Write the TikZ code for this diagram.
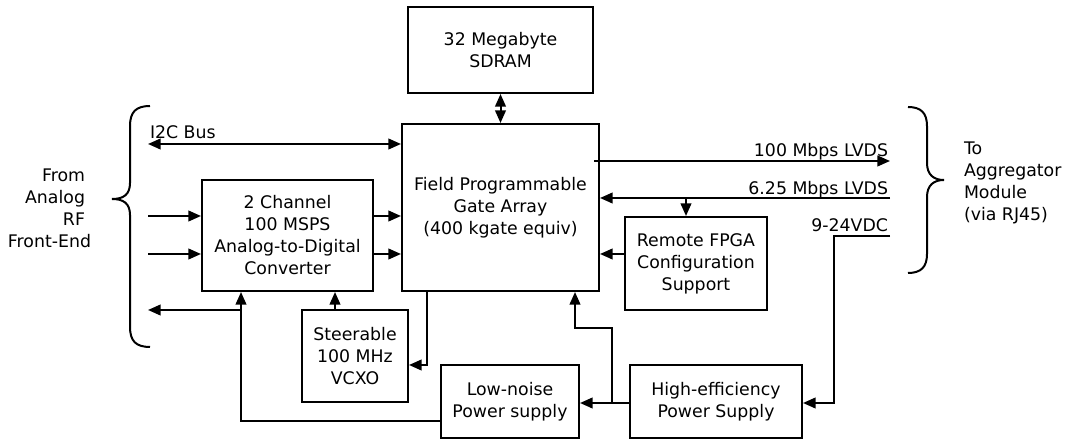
\documentclass[tikz,border=0pt]{standalone}
\usepackage{fontspec}
\setmainfont{DejaVu Sans}
\usetikzlibrary{arrows.meta,calc}
\begin{document}
\begin{tikzpicture}[x=0.75pt,y=-0.75pt,
  line width=1.5pt,
  >={Triangle[length=9.5pt,width=8pt]},
  txt/.style={font=\fontsize{13}{16.5}\selectfont, align=center},
  box/.style={txt, draw, line width=1.5pt, inner sep=2pt},
  lbl/.style={font=\fontsize{13}{16.5}\selectfont, inner sep=0pt},
  wire/.style={line width=1.5pt}
]
\useasboundingbox (0,0) rectangle (1068,441);

% boxes
\node[box, minimum width=138.75pt, minimum height=64.5pt] (sdram) at (500.5,50) {32 Megabyte\\SDRAM};
\node[box, minimum width=147.75pt, minimum height=125.25pt] (fpga) at (500.5,207.5) {Field Programmable\\Gate Array\\(400 kgate equiv)};
\node[box, minimum width=128.25pt, minimum height=83.25pt] (adc) at (287.5,235.5) {2 Channel\\100 MSPS\\Analog-to-Digital\\Converter};
\node[box, minimum width=106.5pt, minimum height=69.75pt] (remote) at (696,263.5) {Remote FPGA\\Configuration\\Support};
\node[box, minimum width=79.5pt, minimum height=69pt] (vcxo) at (355,356) {Steerable\\100 MHz\\VCXO};
\node[box, minimum width=103.5pt, minimum height=54.75pt] (lownoise) at (510,401.5) {Low-noise\\Power supply};
\node[box, minimum width=129pt, minimum height=54.75pt] (higheff) at (716,401.5) {High-efficiency\\Power Supply};

% labels
\node[lbl, anchor=base west] (i2clbl) at (149,139) {I2C Bus};
\node[lbl, anchor=base east] (l100) at (889,157) {100 Mbps LVDS};
\node[lbl, anchor=base east] (l625) at (889,195) {6.25 Mbps LVDS};
\node[lbl, anchor=base east] (lvdc) at (889,232) {9-24VDC};
\node[lbl, align=right, anchor=east] (from) at (86,208) {From\\Analog\\RF\\\makebox[\dimexpr\width-4.5pt\relax][l]{Front-End}};
\node[lbl, align=left, anchor=west] (to) at (963,183) {To\\Aggregator\\Module\\(via RJ45)};

% coordinates
\coordinate (i2cL) at (148,144);
\coordinate (in1) at (148,216);
\coordinate (in2) at (148,254);
\coordinate (outL) at (148,310);
\coordinate (c1) at (241,421);
\coordinate (c2) at (335,0);
\coordinate (c3) at (427,365);
\coordinate (c4) at (612,403);
\coordinate (c5) at (575,328);
\coordinate (c6) at (890,161);
\coordinate (c7) at (890,198);
\coordinate (c8) at (686,198);
\coordinate (c9) at (0,254);
\coordinate (c10) at (890,236);
\coordinate (c11) at (834,236);

% connectors
\draw[wire,<->] (sdram.south) -- (fpga.north);
\draw[wire,<->] (i2cL) -- (i2cL -| fpga.west);
\draw[wire,->] (in1) -- (in1 -| adc.west);
\draw[wire,->] (in2) -- (in2 -| adc.west);
\draw[wire,->] (in1 -| adc.east) -- (in1 -| fpga.west);
\draw[wire,->] (in2 -| adc.east) -- (in2 -| fpga.west);
\draw[wire,->] (lownoise.west |- c1) -- (c1) -- (c1 |- adc.south);
\draw[wire,->] (c1 |- outL) -- (outL);
\draw[wire,->] (vcxo.north -| c2) -- (adc.south -| c2);
\draw[wire,->] (fpga.south -| c3) -- (c3) -- (vcxo.east |- c3);
\draw[wire,->] (higheff.west |- c4) -- (lownoise.east |- c4);
\draw[wire,->] (c4) -- (c4 |- c5) -- (c5) -- (fpga.south -| c5);
\draw[wire,->] ($(fpga.east |- c6)+(-6,0)$) -- (c6);
\draw[wire,->] (c7) -- (fpga.east |- c7);
\draw[wire,->] (c8) -- (remote.north -| c8);
\draw[wire,->] (remote.west |- c9) -- (fpga.east |- c9);
\draw[wire,->] (c10) -- (c11) -- (c11 |- c4) -- (higheff.east |- c4);

% braces
\draw[wire] (150,106) .. controls (136,106) and (130,112) .. (130,126) -- (130,183)
  .. controls (130,195) and (123,199) .. (112,199)
  .. controls (123,199) and (130,203) .. (130,215) -- (130,327)
  .. controls (130,341) and (136,347) .. (150,347);
\draw[wire] (908,107) .. controls (921,107) and (927,113) .. (927,126) -- (927,163)
  .. controls (927,175) and (934,180) .. (944,180)
  .. controls (934,180) and (927,185) .. (927,197) -- (927,254)
  .. controls (927,267) and (921,273) .. (908,273);
\end{tikzpicture}
\end{document}
